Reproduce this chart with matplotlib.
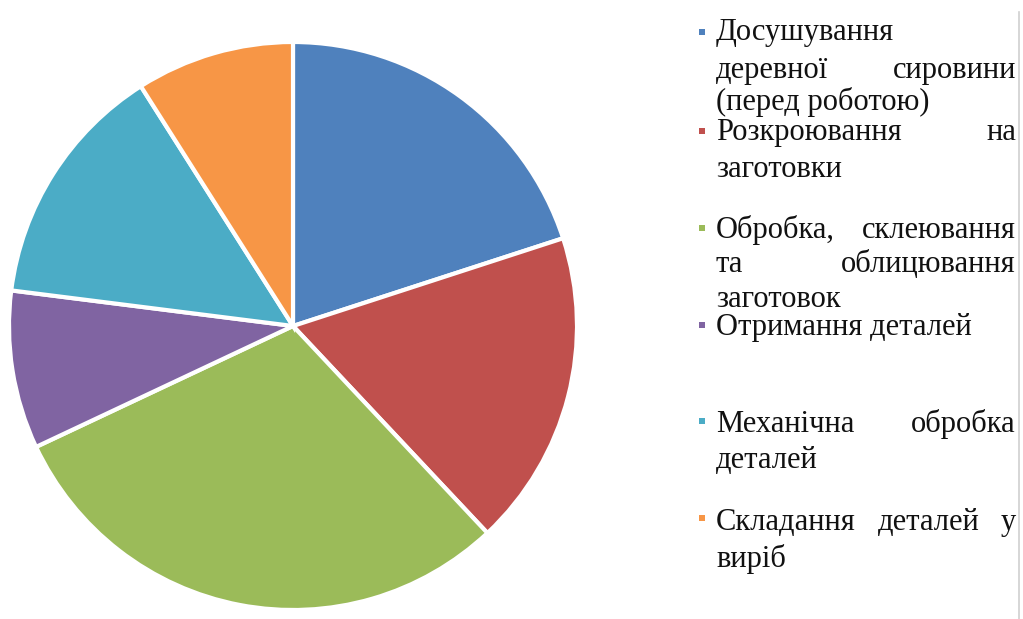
import matplotlib
matplotlib.use("Agg")
import matplotlib.pyplot as plt
from matplotlib.patches import Rectangle
from matplotlib.lines import Line2D

# share of each stage (clockwise from the top)
stages = ["Досушування деревної сировини (перед роботою)",
          "Розкроювання на заготовки",
          "Обробка, склеювання та облицювання заготовок",
          "Отримання деталей",
          "Механічна обробка деталей",
          "Складання деталей у виріб"]
shares = [20, 18, 30, 9, 14, 9]
colors = ["#4F81BD", "#C0504D", "#9BBB59", "#8064A2", "#4BACC6", "#F79646"]

# how the legend text wraps in the original (words per line)
wraps = [[1, 2, 2], [2, 1], [2, 2, 1], [2], [2, 1], [3, 1]]

W, H = 1023, 619
fig = plt.figure(figsize=(W / 100, H / 100), dpi=100)
fig.patch.set_facecolor("white")

# pie: centre (293, 326) px, radius 284 px
cx, cy, r = 293, 326, 284
ax = fig.add_axes([(cx - r) / W, (H - cy - r) / H, 2 * r / W, 2 * r / H])
ax.pie(shares, colors=colors, startangle=90, counterclock=False,
       wedgeprops=dict(edgecolor="white", linewidth=3))
ax.set_xlim(-1, 1)
ax.set_ylim(-1, 1)
ax.axis("off")

# legend drawn by hand so the text can be justified like in Word
font = dict(family="Liberation Serif", fontsize=22, color="#111111")
x0, x1 = 716, 1016
baselines = [[40, 78, 110], [140, 177], [238, 272, 307], [335], [432, 468], [530, 567]]
marker_y = [32, 131, 228, 325, 421, 518]

renderer = fig.canvas.get_renderer()

def px(x, y):
    return x / W, 1 - y / H

for i, label in enumerate(stages):
    words = label.split()
    mx, my = px(702 - 3, marker_y[i] + 3)
    fig.patches.append(Rectangle((mx, my), 6 / W, 6 / H, transform=fig.transFigure,
                                 facecolor=colors[i], edgecolor="none"))
    k = 0
    nlines = len(wraps[i])
    for j, n in enumerate(wraps[i]):
        line = words[k:k + n]
        k += n
        yb = baselines[i][j]
        last = j == nlines - 1
        if last or len(line) == 1:
            fig.text(*px(x0, yb), " ".join(line), ha="left", va="baseline", **font)
            continue
        # justified line: spread words between x0 and x1
        texts = [fig.text(*px(x0, yb), w, ha="left", va="baseline", **font) for w in line]
        widths = [t.get_window_extent(renderer).width for t in texts]
        gap = (x1 - x0 - sum(widths)) / (len(line) - 1)
        xx = x0
        for t, wd in zip(texts, widths):
            t.set_position(px(xx, yb))
            xx += wd + gap

# thin frame edge on the right of the original image
fig.lines.append(Line2D([1019 / W, 1019 / W], [0, 1 - 12 / H], transform=fig.transFigure,
                        color="#d0d0d0", linewidth=1.2))

fig.savefig("out.png", dpi=100, facecolor="white")
